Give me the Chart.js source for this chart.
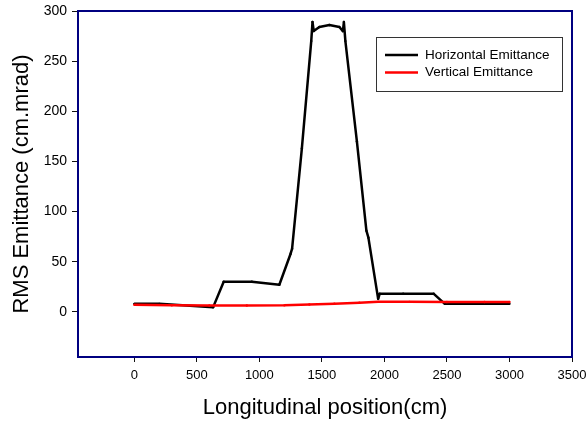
<!DOCTYPE html>
<html>
<head>
<meta charset="utf-8">
<script src="https://cdn.jsdelivr.net/npm/chart.js@4/dist/chart.umd.min.js"></script>
<style>
  html, body { margin: 0; padding: 0; background: #fff; }
  canvas { display: block; }
</style>
</head>
<body>
<canvas id="emitChart" width="588" height="423"></canvas>
<script>
// horizontal emittance (black)
const horizX = [0, 200, 630, 715, 940, 1160, 1250, 1262, 1340, 1415, 1425, 1435, 1480, 1560, 1640, 1668, 1676, 1688, 1780, 1856, 1872, 1950, 1962, 2150, 2395, 2483, 2700, 3000];
const horizY = [8, 8, 4.5, 30, 30, 27, 58, 63, 163, 270, 289, 280, 284, 286, 284, 280, 289, 270, 170, 81, 74, 13, 18, 18, 18, 8, 8, 8];
// vertical emittance (red)
const vertX = [0, 300, 600, 900, 1200, 1400, 1600, 1800, 1950, 2200, 2500, 2800, 3000];
const vertY = [7, 6.5, 6.3, 6.3, 6.5, 7.3, 8.2, 9.2, 10, 10, 9.8, 9.8, 9.8];
// tick labels
const xTicks = [0, 500, 1000, 1500, 2000, 2500, 3000, 3500];
const yTicks = [0, 50, 100, 150, 200, 250, 300];

const FONT = '"Liberation Sans", Arial, sans-serif';

function toPoints(xs, ys) {
  return xs.map((x, i) => ({ x: x, y: ys[i] }));
}

// frame around the plot area
const framePlugin = {
  id: 'frame',
  afterDatasetsDraw(chart) {
    const a = chart.chartArea;
    const ctx = chart.ctx;
    ctx.save();
    ctx.strokeStyle = '#000080';
    ctx.lineWidth = 2;
    ctx.strokeRect(a.left, a.top, a.right - a.left, a.bottom - a.top);
    ctx.restore();
  }
};

// boxed legend inside plot, top right
const boxLegend = {
  id: 'boxLegend',
  afterDraw(chart) {
    const ctx = chart.ctx;
    const a = chart.chartArea;
    const bx = a.right - 196, by = a.top + 26, bw = 186, bh = 54;
    ctx.save();
    ctx.fillStyle = '#fff';
    ctx.fillRect(bx, by, bw, bh);
    ctx.strokeStyle = '#333';
    ctx.lineWidth = 1;
    ctx.strokeRect(bx + 0.5, by + 0.5, bw, bh);
    ctx.font = '13.5px ' + FONT;
    ctx.textBaseline = 'middle';
    chart.data.datasets.forEach((ds, i) => {
      const y = by + 18 + i * 17.5;
      ctx.strokeStyle = ds.borderColor;
      ctx.lineWidth = 2.5;
      ctx.beginPath();
      ctx.moveTo(bx + 9, y);
      ctx.lineTo(bx + 42, y);
      ctx.stroke();
      ctx.fillStyle = '#000';
      ctx.fillText(ds.label, bx + 49, y);
    });
    ctx.restore();
  }
};

const ctx = document.getElementById('emitChart').getContext('2d');
const emitChart = new Chart(ctx, {
  type: 'line',
  data: {
    datasets: [
      {
        label: 'Horizontal Emittance',
        data: toPoints(horizX, horizY),
        borderColor: '#000000',
        backgroundColor: '#000000',
        borderWidth: 2.5,
        borderJoinStyle: 'round',
        pointRadius: 1.2,
        pointBorderWidth: 0,
        tension: 0,
        fill: false,
        order: 1
      },
      {
        label: 'Vertical Emittance',
        data: toPoints(vertX, vertY),
        borderColor: '#ff0000',
        backgroundColor: '#ff0000',
        borderWidth: 2.5,
        borderJoinStyle: 'round',
        pointRadius: 1.2,
        pointBorderWidth: 0,
        tension: 0,
        fill: false,
        order: 0
      }
    ]
  },
  options: {
    responsive: false,
    animation: false,
    layout: { padding: { top: 11, right: 16, left: 0, bottom: 0 } },
    plugins: {
      legend: { display: false },
      tooltip: { enabled: false }
    },
    scales: {
      x: {
        type: 'linear',
        min: -450,
        max: 3500,
        afterBuildTicks: (axis) => { axis.ticks = xTicks.map(v => ({ value: v })); },
        afterFit: (scale) => { scale.height = 66; scale.paddingLeft = 0; scale.paddingRight = 0; },
        grid: { drawOnChartArea: false, drawTicks: true, tickLength: 5, color: '#111', lineWidth: 1 },
        border: { display: false },
        ticks: {
          color: '#000', padding: 6, maxRotation: 0,
          font: { family: FONT, size: 13 },
          callback: (v) => String(v)
        },
        title: {
          display: true,
          text: 'Longitudinal position(cm)',
          color: '#000',
          padding: { top: 0, bottom: 2 },
          font: { family: FONT, size: 22 }
        }
      },
      y: {
        type: 'linear',
        min: -45,
        max: 300,
        afterBuildTicks: (axis) => { axis.ticks = yTicks.map(v => ({ value: v })); },
        afterFit: (scale) => { scale.width = 78; scale.paddingTop = 0; scale.paddingBottom = 0; },
        grid: { drawOnChartArea: false, drawTicks: true, tickLength: 6, color: '#111', lineWidth: 1 },
        border: { display: false },
        ticks: {
          color: '#000', padding: 5,
          font: { family: FONT, size: 14 },
          callback: (v) => String(v)
        },
        title: {
          display: true,
          text: 'RMS Emittance (cm.mrad)',
          color: '#000',
          padding: { top: 9, bottom: 0 },
          font: { family: FONT, size: 22 }
        }
      }
    }
  },
  plugins: [framePlugin, boxLegend]
});
</script>
</body>
</html>
